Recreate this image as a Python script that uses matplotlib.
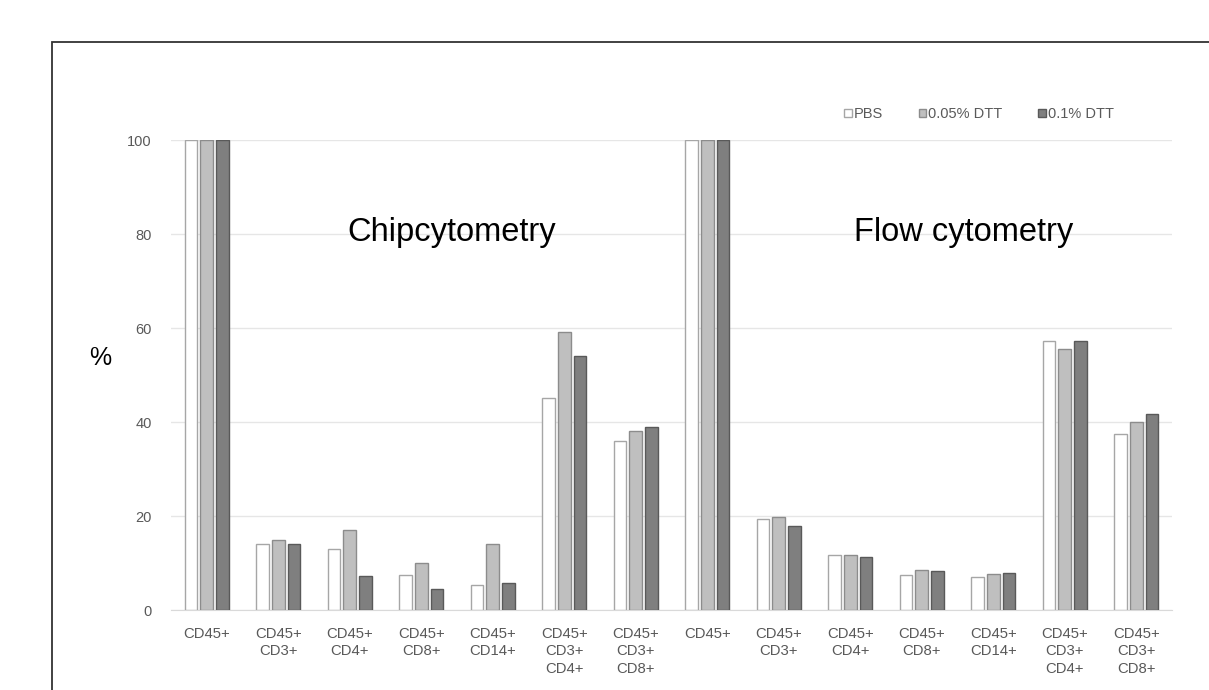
import numpy as np
import matplotlib
matplotlib.use("Agg")
import matplotlib.pyplot as plt
from matplotlib.patches import Rectangle

plt.rcParams["font.family"] = ["Liberation Sans", "DejaVu Sans"]

# categories (two panels: chip cytometry then flow cytometry)
categories = ["CD45+", "CD45+\nCD3+", "CD45+\nCD4+", "CD45+\nCD8+", "CD45+\nCD14+",
              "CD45+\nCD3+\nCD4+", "CD45+\nCD3+\nCD8+"] * 2
series_names = ["PBS", "0.05% DTT", "0.1% DTT"]
pbs = [100, 14.0, 12.9, 7.4, 5.3, 45.1, 36.0,
       100, 19.3, 11.6, 7.5, 7.1, 57.3, 37.4]
dtt005 = [100, 14.9, 17.0, 9.9, 14.0, 59.1, 38.0,
          100, 19.7, 11.6, 8.5, 7.7, 55.5, 40.1]
dtt01 = [100, 14.0, 7.2, 4.5, 5.8, 54.0, 39.0,
         100, 17.9, 11.2, 8.4, 7.9, 57.3, 41.6]
panel_titles = ["Chipcytometry", "Flow cytometry"]

fills = ["#ffffff", "#bfbfbf", "#7f7f7f"]
edges = ["#a6a6a6", "#8c8c8c", "#595959"]
txt = "#595959"

fig = plt.figure(figsize=(12.09, 6.9), dpi=100)
ax = fig.add_axes([171 / 1209, 1 - 610 / 690, 1001 / 1209, 470 / 690])

x = np.arange(len(categories))
w = 0.175
step = 0.217
for i, vals in enumerate([pbs, dtt005, dtt01]):
    ax.bar(x + (i - 1) * step, vals, width=w, color=fills[i], edgecolor=edges[i],
           linewidth=1.0, label=series_names[i], zorder=3)

ax.set_xlim(-0.5, len(categories) - 0.5)
ax.set_ylim(0, 100)
ax.set_yticks([0, 20, 40, 60, 80, 100])
ax.yaxis.grid(True, color="#e6e6e6", linewidth=1, zorder=0)
ax.tick_params(axis="y", length=0, pad=14, labelsize=10.5, labelcolor=txt)
ax.tick_params(axis="x", length=0, pad=12, labelsize=10.7, labelcolor=txt)
ax.set_xticks(x)
ax.set_xticklabels(categories, linespacing=1.33)
for s in ["top", "right", "left"]:
    ax.spines[s].set_visible(False)
ax.spines["bottom"].set_color("#d9d9d9")

# panel titles
ax.text(3.42, 78.5, panel_titles[0], ha="center", va="baseline", fontsize=23.5, color="#000000")
ax.text(10.59, 78.5, panel_titles[1], ha="center", va="baseline", fontsize=23.5, color="#000000")
fig.text(100 / 1209, 1 - 358 / 690, "%", ha="center", va="center", fontsize=18)

leg = fig.legend(loc="center", bbox_to_anchor=(979 / 1209, 1 - 114 / 690), ncol=3,
                 frameon=False, fontsize=10.5, handlelength=0.5, handleheight=0.5,
                 handletextpad=0.15, columnspacing=2.45)
for t in leg.get_texts():
    t.set_color(txt)

# outer frame
fig.patches.append(Rectangle((52 / 1209, -0.2), 1.2, 1.2 - 42 / 690,
                             transform=fig.transFigure, fill=False,
                             edgecolor="#333333", linewidth=1.3))

fig.savefig("out.png", dpi=100)
